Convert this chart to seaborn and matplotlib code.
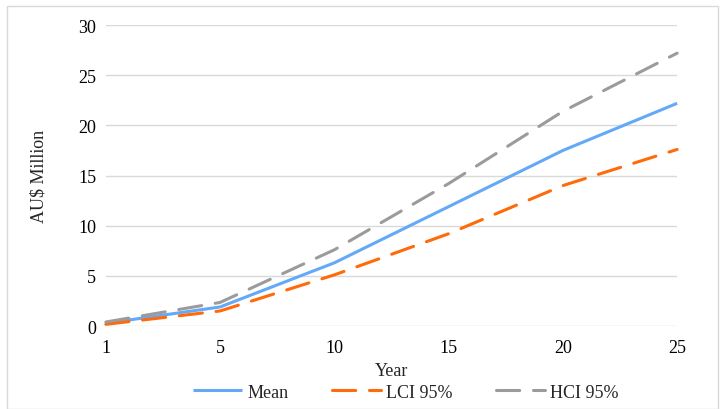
import pandas as pd
import matplotlib.pyplot as plt
import seaborn as sns
from matplotlib.patches import Rectangle

# values (AU$ million)
years = ['1', '5', '10', '15', '20', '25']
mean_vals = [0.27, 1.9, 6.3, 11.9, 17.5, 22.2]
lci_vals = [0.17, 1.5, 5.1, 9.2, 14.0, 17.6]
hci_vals = [0.4, 2.35, 7.6, 14.2, 21.4, 27.2]
series_names = ['Mean', 'LCI 95%', 'HCI 95%']
series_colors = ['#64A9F8', '#FF6A0A', '#9B9B9B']
y_ticks = [0, 5, 10, 15, 20, 25, 30]

sns.set_theme(style='white')
plt.rcParams['font.family'] = ['Liberation Serif', 'DejaVu Serif']

df = pd.DataFrame({
    'Year': years * 3,
    'Value': mean_vals + lci_vals + hci_vals,
    'Series': [n for n in series_names for _ in years],
})

fig = plt.figure(figsize=(7.25, 4.1), dpi=100)
ax = fig.add_axes([0.146, 0.2024, 0.788, 0.734])

sns.lineplot(data=df, x='Year', y='Value', hue='Series', style='Series',
             palette=dict(zip(series_names, series_colors)),
             dashes={'Mean': '', 'LCI 95%': (7.6, 4.5), 'HCI 95%': (7.6, 4.5)},
             linewidth=2.2, sort=False, legend=False, ax=ax)
for line in ax.lines:
    line.set_clip_on(False)
    line.set_solid_capstyle('butt')
    line.set_dash_capstyle('round')

ax.set_xlim(0, len(years) - 1)
ax.set_ylim(0, 30)
ax.set_yticks(y_ticks)
ax.yaxis.grid(True, color='#D9D9D9', linewidth=1)
ax.set_axisbelow(True)
sns.despine(ax=ax, left=True, bottom=True)
ax.tick_params(axis='both', length=0, labelsize=13, colors='#000000')
ax.tick_params(axis='x', pad=9)
ax.tick_params(axis='y', pad=7)

ax.set_ylabel('AU$ Million', fontsize=13)
ax.yaxis.set_label_coords(-0.102, 0.5)
ax.set_xlabel('Year', fontsize=13)
ax.xaxis.set_label_coords(0.5, -0.12)

fig.legend(handles=ax.lines, labels=series_names, loc='center', ncol=3,
           bbox_to_anchor=(0.56, 0.041), frameon=False, fontsize=13,
           handlelength=2.7, handletextpad=0.3, columnspacing=2.4)

fig.patches.append(Rectangle((7 / 725, 0), 711 / 725, 403 / 410, transform=fig.transFigure,
                             fill=False, edgecolor='#D9D9D9', linewidth=1))

fig.savefig('out.png', dpi=100)
